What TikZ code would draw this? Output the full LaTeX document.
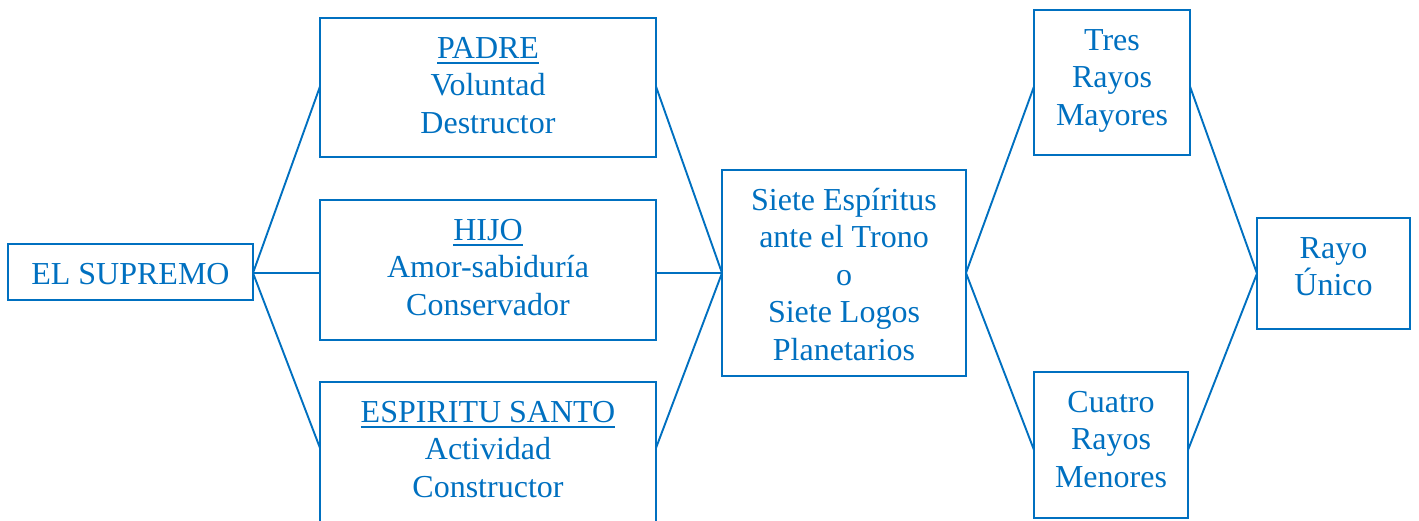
\documentclass[tikz,border=0pt]{standalone}
\usepackage{fontspec}
\setmainfont{Liberation Serif}
\definecolor{blu}{HTML}{0070C0}
\newcommand\ulw[1]{\setbox0\hbox{#1}\rlap{\rule[-5.8pt]{\wd0}{2pt}}\box0}
\newcommand\bt[3]{\parbox[c][#2][t]{#1}{\centering\rule{0pt}{40.5pt}#3}}
\tikzset{
  bx/.style={draw=blu, line width=2.3pt, inner sep=0pt, outer sep=0pt, text=blu,
    font=\fontsize{32}{37.4}\selectfont},
  conn/.style={draw=blu, line width=1.9pt}
}
\begin{document}
\begin{tikzpicture}[x=1pt,y=-1pt]
\useasboundingbox (0,0) rectangle (1419,521);
\clip (0,0) rectangle (1419,521);
\node[bx] (sup) at (130.5,272) {\bt{245pt}{56pt}{EL SUPREMO}};
\node[bx] (padre) at (488,87.5) {\bt{336pt}{139pt}{\ulw{PADRE}\\Voluntad\\Destructor}};
\node[bx] (hijo) at (488,270) {\bt{336pt}{140pt}{\ulw{HIJO}\\Amor-sabiduría\\Conservador}};
\node[bx] (esp) at (488,452) {\bt{336pt}{140pt}{\ulw{ESPIRITU SANTO}\\Actividad\\Constructor}};
\node[bx] (siete) at (844,273) {\bt{244pt}{206pt}{Siete Espíritus\\ante el Trono\\o\\Siete Logos\\Planetarios}};
\node[bx] (tres) at (1112,82.5) {\bt{156pt}{145pt}{Tres\\Rayos\\Mayores}};
\node[bx] (cuatro) at (1111,445) {\bt{154pt}{146pt}{Cuatro\\Rayos\\Menores}};
\node[bx] (rayo) at (1333.5,273.5) {\bt{153pt}{111pt}{Rayo\\Único}};
\draw[conn] ([yshift=-1pt]sup.east) -- ([yshift=1pt]padre.west);
\draw[conn] ([yshift=-1pt]sup.east) -- ([yshift=-3pt]hijo.west);
\draw[conn] ([yshift=-1pt]sup.east) -- ([yshift=4pt]esp.west);
\draw[conn] ([yshift=1pt]padre.east) -- (siete.west);
\draw[conn] ([yshift=-3pt]hijo.east) -- (siete.west);
\draw[conn] ([yshift=4pt]esp.east) -- (siete.west);
\draw[conn] (siete.east) -- ([yshift=-4pt]tres.west);
\draw[conn] (siete.east) -- ([yshift=-5pt]cuatro.west);
\draw[conn] ([yshift=-4pt]tres.east) -- (rayo.west);
\draw[conn] ([yshift=-5pt]cuatro.east) -- (rayo.west);
\end{tikzpicture}
\end{document}
